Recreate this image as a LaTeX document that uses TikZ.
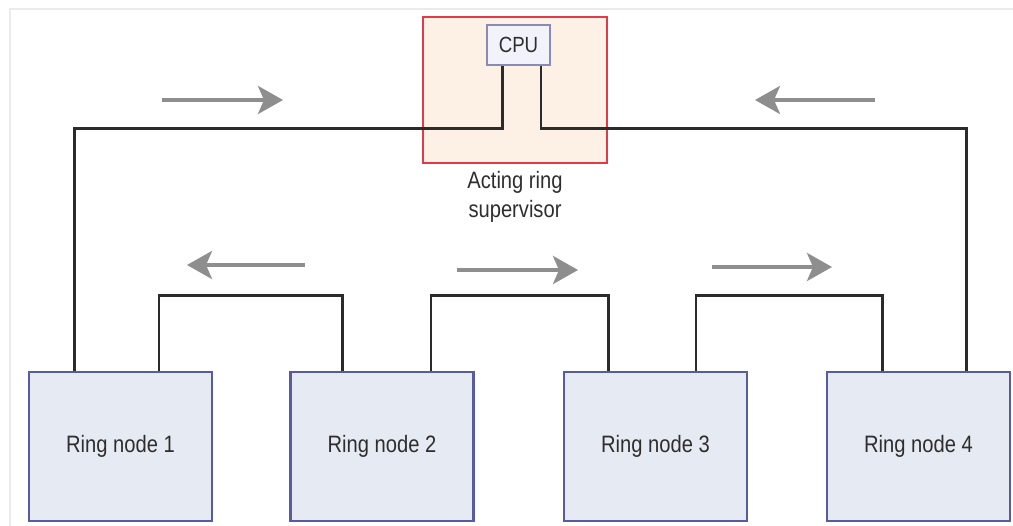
\documentclass[tikz,border=0pt]{standalone}
\usepackage{fontspec}
\newfontfamily\labelfont[FakeStretch=0.85]{Liberation Sans}
\usetikzlibrary{arrows.meta}
\definecolor{wirecol}{HTML}{2B2B2B}
\definecolor{flowcol}{HTML}{8E8E8E}
\definecolor{ringfill}{HTML}{E6EBF3}
\definecolor{ringline}{HTML}{5A5AA2}
\definecolor{supfill}{HTML}{FDF0E4}
\definecolor{supline}{HTML}{E23A4A}
\definecolor{cpufill}{HTML}{F2F2FA}
\definecolor{cpuline}{HTML}{8A8AB8}
\definecolor{textcol}{HTML}{2E2E2E}
\tikzset{
  ringnode/.style={draw=ringline, fill=ringfill, line width=1.6pt, minimum width=3.66cm, minimum height=2.98cm, text=textcol, font=\labelfont\fontsize{13.5}{15}\selectfont},
  supbox/.style={draw=supline, fill=supfill, line width=1.5pt, minimum width=3.68cm, minimum height=2.92cm},
  cpubox/.style={draw=cpuline, fill=cpufill, line width=1pt, minimum width=1.26cm, minimum height=0.8cm, text=textcol, font=\labelfont\fontsize{12.5}{14}\selectfont},
  wire/.style={draw=wirecol, line width=1.7pt},
  flow/.style={draw=flowcol, line width=2.2pt, -{Stealth[length=0.5cm, width=0.56cm, inset=0.12cm]}}
}
\begin{document}
\begin{tikzpicture}[x=0.02cm, y=-0.02cm]
			\useasboundingbox (0,0) rectangle (1013,526);
			\draw[black!8, line width=1.2pt] (10,526) -- (10,9) -- (1013,9);
			\node[supbox] (sup) at (515,90) {};
			\node[cpubox] (cpu) at (518.5,45) {CPU};
			\node[text=textcol, font=\labelfont\fontsize{13.5}{16.5}\selectfont, align=center] (suplabel) at (515,197) {Acting ring\\supervisor};
			\node[ringnode] (rn1) at (120.5,446.5) {Ring node 1};
			\node[ringnode] (rn2) at (382,446.5) {Ring node 2};
			\node[ringnode] (rn3) at (655.5,446.5) {Ring node 3};
			\node[ringnode] (rn4) at (918.5,446.5) {Ring node 4};
			\draw[wire] ([xshift=-0.93cm]rn1.north) -- ++(0,-242) -| ([xshift=-0.33cm]cpu.south);
			\draw[wire] ([xshift=0.95cm]rn4.north) -- ++(0,-242) -| ([xshift=0.45cm]cpu.south);
			\draw[wire] ([xshift=0.77cm]rn1.north) -- ++(0,-75) -| ([xshift=-0.8cm]rn2.north);
			\draw[wire] ([xshift=0.98cm]rn2.north) -- ++(0,-75) -| ([xshift=-0.95cm]rn3.north);
			\draw[wire] ([xshift=0.81cm]rn3.north) -- ++(0,-75) -| ([xshift=-0.73cm]rn4.north);
			\draw[flow] (162,100) -- (283,100);
			\draw[flow] (875,100) -- (755,100);
			\draw[flow] (305,265) -- (187,265);
			\draw[flow] (457,270) -- (578,270);
			\draw[flow] (712,267) -- (832,267);
		\end{tikzpicture}
\end{document}
